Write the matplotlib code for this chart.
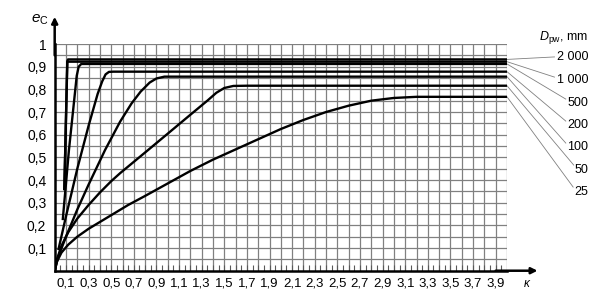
import matplotlib
matplotlib.use('Agg')
import numpy as np
import matplotlib.pyplot as plt

plt.rcParams['font.family'] = ['Liberation Sans', 'DejaVu Sans']
plt.rcParams['mathtext.fontset'] = 'custom'
plt.rcParams['mathtext.rm'] = 'Liberation Sans'
plt.rcParams['mathtext.it'] = 'Liberation Sans:italic'

# curve data (kappa, e_C), per ball diameter D_pw in mm
d2000_x = [0.085, 0.112, 0.118, 4.0]
d2000_y = [0.355, 0.925, 0.932, 0.932]
d1000_x = [0.085, 0.111, 4.0]
d1000_y = [0.355, 0.922, 0.922]
d500_x = [0.071, 0.126, 0.195, 0.212, 0.235, 4.0]
d500_y = [0.223, 0.532, 0.86, 0.9, 0.912, 0.912]
d200_x = [0.032, 0.1, 0.2, 0.3, 0.38, 0.42, 0.45, 0.48, 0.52, 4.0]
d200_y = [0.091, 0.24, 0.45, 0.64, 0.78, 0.835, 0.866, 0.877, 0.878, 0.878]
d100_x = [0.0, 0.03, 0.1, 0.2, 0.3, 0.445, 0.578, 0.68, 0.76, 0.84, 0.9, 0.97, 4.0]
d100_y = [0.0, 0.06, 0.15, 0.27, 0.38, 0.532, 0.657, 0.738, 0.79, 0.83, 0.848, 0.856, 0.856]
d50_x = [0.0, 0.02, 0.06, 0.12, 0.2, 0.3, 0.4, 0.5, 0.578, 0.825, 1.02, 1.2, 1.35, 1.43, 1.5,
         1.58, 1.7, 4.0]
d50_y = [0.0, 0.05, 0.11, 0.17, 0.23, 0.29, 0.345, 0.395, 0.43, 0.532, 0.613, 0.688, 0.75, 0.785,
         0.806, 0.815, 0.816, 0.816]
d25_x = [0.0, 0.02, 0.06, 0.12, 0.2, 0.3, 0.4, 0.5, 0.65, 0.8, 1.0, 1.2, 1.4, 1.6, 1.8, 2.0,
         2.2, 2.4, 2.6, 2.8, 3.0, 3.2, 4.0]
d25_y = [0.0, 0.04, 0.08, 0.115, 0.15, 0.185, 0.215, 0.245, 0.29, 0.33, 0.385, 0.44, 0.49, 0.535,
         0.58, 0.625, 0.665, 0.70, 0.728, 0.75, 0.762, 0.767, 0.767]

curves = [(d2000_x, d2000_y), (d1000_x, d1000_y), (d500_x, d500_y), (d200_x, d200_y),
          (d100_x, d100_y), (d50_x, d50_y), (d25_x, d25_y)]
labels = ['2 000', '1 000', '500', '200', '100', '50', '25']

xtick_vals = np.arange(0.1, 4.0, 0.2)
ytick_vals = np.arange(0.1, 1.01, 0.1)

fig = plt.figure(figsize=(6.05, 2.92), dpi=100)
ax = fig.add_axes([0.0904, 0.0729, 0.7476, 0.7764])
ax.set_xlim(0, 4.0)
ax.set_ylim(0, 1.0)

# grid: 0.1 in kappa, 0.05 in e_C
for gx in np.arange(0.1, 4.01, 0.1):
    ax.axvline(gx, color='0.5', lw=0.9, zorder=1)
for gy in np.arange(0.05, 1.001, 0.05):
    ax.axhline(gy, color='0.5', lw=0.9, zorder=1)

for (cx, cy) in curves:
    ax.plot(cx, cy, color='black', lw=1.7, solid_capstyle='butt',
            solid_joinstyle='round', zorder=3)

for s in ['top', 'right']:
    ax.spines[s].set_visible(False)
ax.spines['left'].set_linewidth(1.8)
ax.spines['bottom'].set_linewidth(1.8)

ax.set_xticks(xtick_vals)
ax.set_xticklabels([('%.1f' % v).replace('.', ',') for v in xtick_vals], fontsize=9.5)
ax.set_xticks(np.arange(0.05, 4.0, 0.05), minor=True)
ax.tick_params(axis='x', which='both', direction='in', length=4, width=0.8,
               color='0.35', pad=5)
ax.set_yticks(ytick_vals)
ax.set_yticklabels([('%.1f' % v).replace('.', ',').replace('1,0', '1') for v in ytick_vals],
                   fontsize=10)
ax.tick_params(axis='y', length=0, pad=6)

# axis arrows
ax.annotate('', xy=(4.27, 0), xytext=(3.9, 0), annotation_clip=False,
            arrowprops=dict(arrowstyle='-|>', color='black', lw=1.8,
                            mutation_scale=9, shrinkA=0, shrinkB=0))
ax.annotate('', xy=(0, 1.12), xytext=(0, 0.95), annotation_clip=False,
            arrowprops=dict(arrowstyle='-|>', color='black', lw=1.8,
                            mutation_scale=9, shrinkA=0, shrinkB=0))
ax.text(-0.05, 1.105, r'$e_{\rm C}$', ha='right', va='center', fontsize=11)
ax.text(4.18, -0.06, r'$\kappa$', ha='center', va='center', fontsize=8.5)

# leader lines to the D_pw labels
ends = [0.932, 0.922, 0.912, 0.878, 0.856, 0.816, 0.767]
tips = [(4.42, 0.943), (4.42, 0.854), (4.52, 0.757), (4.52, 0.66),
        (4.52, 0.563), (4.59, 0.466), (4.585, 0.369)]
texty = [0.943, 0.841, 0.74, 0.642, 0.545, 0.443, 0.346]
for lab, e, (tx, ty), yy in zip(labels, ends, tips, texty):
    ax.plot([4.0, tx], [e, ty], color='0.5', lw=0.6, clip_on=False, zorder=2)
    ax.text(4.72, yy, lab, ha='right', va='center', fontsize=9)
ax.text(4.72, 1.03, r'$D_{\rm pw}$, mm', ha='right', va='center', fontsize=9)

fig.savefig('out.png', dpi=100)
